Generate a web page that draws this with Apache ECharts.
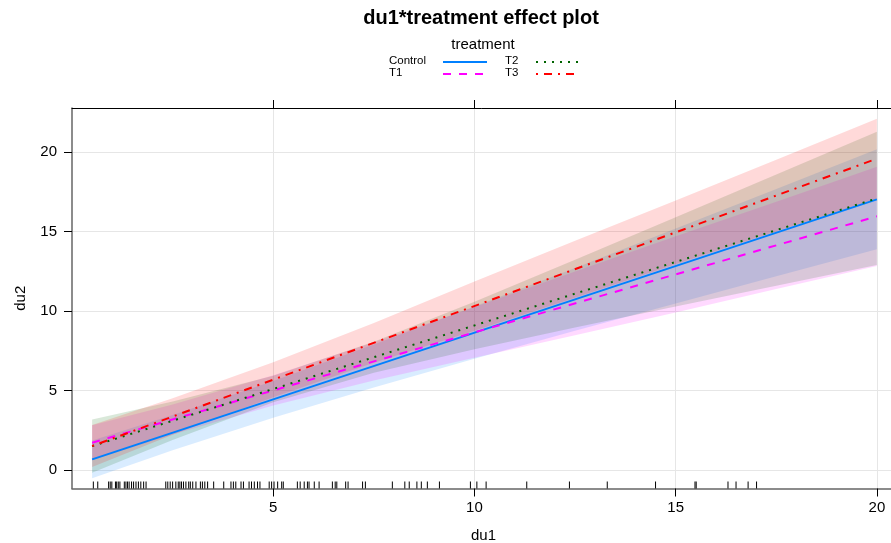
<!DOCTYPE html>
<html>
<head>
<meta charset="utf-8">
<script src="https://cdn.jsdelivr.net/npm/echarts@6/dist/echarts.min.js"></script>
<style>
  html, body { margin: 0; padding: 0; background: #fff; }
  #main { width: 891px; height: 543px; }
</style>
</head>
<body>
<div id="main"></div>
<script>
// effect of du1 by treatment
const groups = ['Control', 'T1', 'T2', 'T3'];
const colors = ['#0080ff', '#ff00ff', '#006400', '#ff0000'];
const dashes = ['solid', [8, 8], [2, 6], [2, 6, 8, 6]];

// fitted lines, at both ends of the du1 range
const lineX = [0.5, 20];
const fitControl = [0.67, 17.04];
const fitT1 = [1.72, 15.97];
const fitT2 = [1.5, 17.1];
const fitT3 = [1.51, 19.6];

// confidence bands
const bandX = [0.5, 2.5, 5, 7.5, 10, 12.5, 15, 17.5, 20];
const lowControl = [-0.52, 1.24, 3.29, 5.20, 7.01, 8.76, 10.48, 12.19, 13.89];
const upControl = [1.86, 3.46, 5.61, 7.90, 10.29, 12.72, 15.20, 17.69, 20.19];
const lowT1 = [0.62, 2.23, 4.06, 5.64, 7.06, 8.49, 9.92, 11.39, 12.85];
const upT1 = [2.82, 4.13, 5.96, 8.04, 10.26, 12.49, 14.72, 16.89, 19.09];
const lowT2 = [-0.18, 1.89, 4.26, 6.12, 7.6, 8.97, 10.29, 11.6, 12.9];
const upT2 = [3.18, 4.31, 5.94, 8.08, 10.6, 13.23, 15.91, 18.6, 21.3];
const lowT3 = [0.19, 2.22, 4.58, 6.75, 8.77, 10.84, 12.96, 15.03, 17.08];
const upT3 = [2.83, 4.52, 6.78, 9.25, 11.87, 14.44, 16.96, 19.53, 22.12];

// rug of observed du1
const rugX = [0.53, 0.64, 0.91, 0.95, 0.99, 1.08, 1.11, 1.15, 1.19, 1.30, 1.34, 1.38, 1.42,
  1.48, 1.53, 1.59, 1.65, 1.71, 1.78, 1.84, 2.33, 2.38, 2.44, 2.50, 2.58, 2.64, 2.68, 2.72,
  2.77, 2.83, 2.90, 2.94, 3.00, 3.08, 3.19, 3.24, 3.30, 3.37, 3.52, 3.77, 3.95, 4.01, 4.07,
  4.20, 4.26, 4.40, 4.46, 4.53, 4.61, 4.67, 4.90, 4.96, 5.02, 5.11, 5.21, 5.25, 5.60, 5.67,
  5.77, 5.85, 5.89, 6.02, 6.14, 6.47, 6.54, 6.58, 6.80, 6.86, 7.22, 7.29, 7.96, 8.27, 8.38,
  8.57, 8.68, 8.83, 9.13, 9.90, 10.06, 10.29, 11.30, 12.36, 13.30, 14.50, 15.48, 15.51,
  16.30, 16.50, 16.80, 17.01];

const xTicks = [5, 10, 15, 20];
const yTicks = [0, 5, 10, 15, 20];

const X_MIN = 0, X_MAX = 20.45;
const Y_MIN = -1.165, Y_MAX = 22.79;
const FONT = '"Liberation Sans", Arial, sans-serif';

const fits = [fitControl, fitT1, fitT2, fitT3];
const lows = [lowControl, lowT1, lowT2, lowT3];
const ups = [upControl, upT1, upT2, upT3];

function rgba(hex, a) {
    let n = parseInt(hex.slice(1), 16);
    return 'rgba(' + (n >> 16) + ',' + ((n >> 8) & 255) + ',' + (n & 255) + ',' + a + ')';
}

let series = [];

// bands as polygons
groups.forEach((g, k) => {
    series.push({
        type: 'custom',
        name: g + ' band',
        data: bandX.map((x, i) => [x, lows[k][i], ups[k][i]]),
        renderItem: function(params, api) {
            if (params.dataIndex !== 0) return null;
            let pts = [];
            bandX.forEach((x, i) => { pts.push(api.coord([x, ups[k][i]])); });
            for (let i = bandX.length - 1; i >= 0; i--) {
                pts.push(api.coord([bandX[i], lows[k][i]]));
            }
            return {
                type: 'polygon',
                shape: { points: pts },
                style: { fill: rgba(colors[k], 0.15), stroke: null }
            };
        },
        silent: true,
        z: 2
    });
});

// fitted lines
groups.forEach((g, k) => {
    series.push({
        type: 'line',
        name: g,
        data: lineX.map((x, i) => [x, fits[k][i]]),
        showSymbol: false,
        lineStyle: { color: colors[k], width: 2, type: dashes[k] },
        silent: true,
        z: 5 + k
    });
});

// rug
series.push({
    type: 'custom',
    name: 'rug',
    data: rugX.map((x) => [x, Y_MIN]),
    renderItem: function(params, api) {
        let p = api.coord([api.value(0), Y_MIN]);
        return {
            type: 'line',
            shape: { x1: p[0], y1: p[1] - 7, x2: p[0], y2: p[1] },
            style: { stroke: '#000', lineWidth: 1 }
        };
    },
    silent: true,
    z: 10
});

// legend drawn by hand, two columns: text then line sample
let legendItems = [];
groups.forEach((g, k) => {
    let col = k >> 1;   // Control,T1 | T2,T3
    let row = k & 1;
    let tx = col ? 505 : 389;
    let lx = col ? 536 : 443;
    let ty = 62 + row * 12;
    legendItems.push({
        type: 'text',
        left: tx, top: ty - 7,
        style: { text: g, font: '11.5px ' + FONT, fill: '#000' }
    });
    legendItems.push({
        type: 'line',
        shape: { x1: lx, y1: ty, x2: lx + 44, y2: ty },
        style: { stroke: colors[k], lineWidth: 2, lineDash: dashes[k] === 'solid' ? null : dashes[k] }
    });
});

const option = {
    animation: false,
    backgroundColor: '#fff',
    graphic: [
        {
            type: 'text', x: 481, y: 8,
            style: { text: 'du1*treatment effect plot', font: 'bold 20px ' + FONT, fill: '#000', align: 'center' }
        },
        {
            type: 'text', x: 483, y: 37,
            style: { text: 'treatment', font: '15px ' + FONT, fill: '#000', align: 'center' }
        }
    ].concat(legendItems),
    grid: { left: 72, right: -4, top: 108, bottom: 54.5, containLabel: false, outerBoundsMode: 'none' },
    xAxis: [
        {
            type: 'value', min: X_MIN, max: X_MAX, position: 'bottom',
            name: 'du1', nameLocation: 'middle', nameGap: 40,
            nameTextStyle: { fontFamily: FONT, fontSize: 15, color: '#000' },
            axisLine: { show: true, onZero: false, lineStyle: { color: '#666', width: 1.5 } },
            axisTick: { show: true, customValues: xTicks, length: 8, inside: false, lineStyle: { color: '#000' } },
            axisLabel: { customValues: xTicks, fontFamily: FONT, fontSize: 15, color: '#000', margin: 12 },
            splitLine: { show: true, lineStyle: { color: '#e6e6e6', width: 1 } }
        },
        {
            type: 'value', min: X_MIN, max: X_MAX, position: 'top',
            axisLine: { show: true, onZero: false, lineStyle: { color: '#000', width: 1 } },
            axisTick: { show: true, customValues: xTicks, length: 8, lineStyle: { color: '#000' } },
            axisLabel: { show: false },
            splitLine: { show: false }
        }
    ],
    yAxis: {
        type: 'value', min: Y_MIN, max: Y_MAX,
        name: 'du2', nameLocation: 'middle', nameGap: 44, nameRotate: 90,
        nameTextStyle: { fontFamily: FONT, fontSize: 15, color: '#000' },
        axisLine: { show: true, onZero: false, lineStyle: { color: '#666', width: 1.5 } },
        axisTick: { show: true, customValues: yTicks, length: 8, lineStyle: { color: '#000' } },
        axisLabel: { customValues: yTicks, fontFamily: FONT, fontSize: 15, color: '#000', margin: 15 },
        splitLine: { show: true, lineStyle: { color: '#e6e6e6', width: 1 } }
    },
    series: series
};

const chart = echarts.init(document.getElementById('main'), null, { renderer: 'canvas' });
chart.setOption(option);
</script>
</body>
</html>
